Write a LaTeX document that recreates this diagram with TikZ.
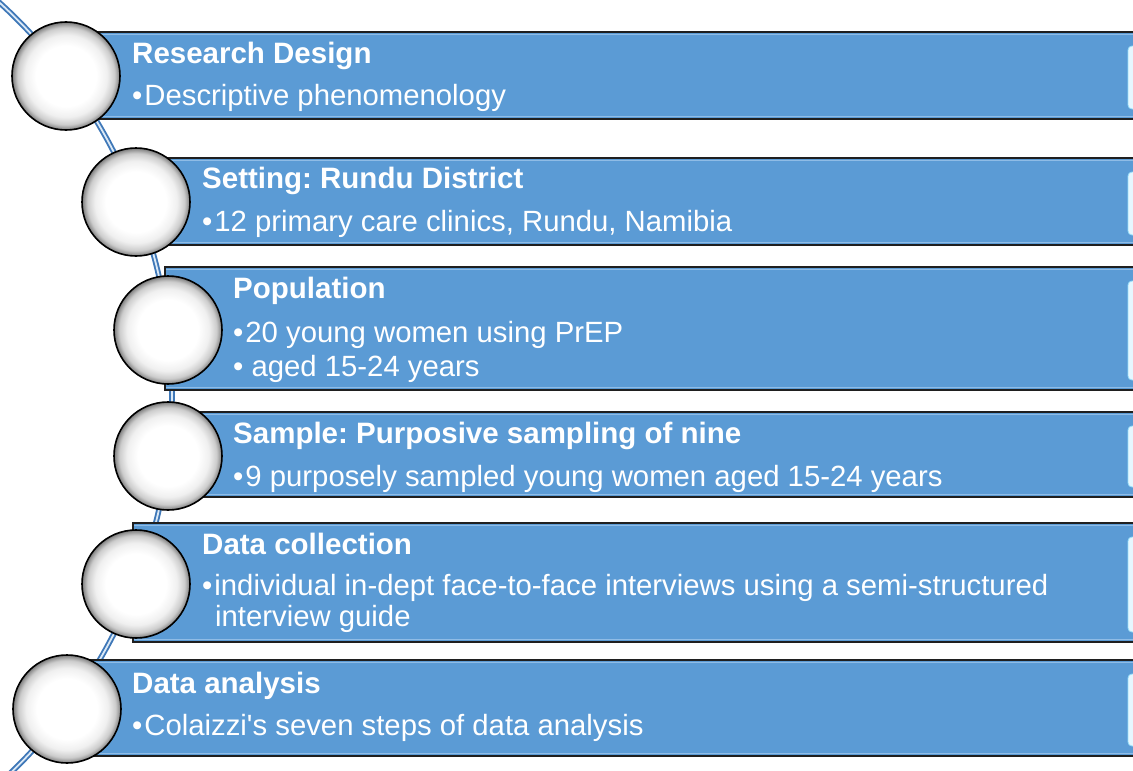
\documentclass[tikz,border=0pt]{standalone}
\usepackage{fontspec}
\setmainfont{Liberation Sans}[Ligatures=TeXOff]
\definecolor{barblue}{HTML}{5B9BD5}
\definecolor{barlight}{HTML}{8FBCE6}
\definecolor{arcblue}{HTML}{3F78B8}
\definecolor{edgelight}{HTML}{E6F7FF}
\pgfdeclareradialshading{glassball}{\pgfpoint{0bp}{0bp}}{color(0bp)=(white); color(14bp)=(white); color(19bp)=(black!6); color(22.5bp)=(black!20); color(24.5bp)=(black!45); color(25bp)=(black!55); color(50bp)=(black!55)}
\newcommand{\bul}{•\hspace{2pt}}
\tikzset{
  bar/.style={fill=barblue, draw=black!88, line width=1.6},
  barhi/.style={draw=barlight, line width=1.5},
  ball/.style={circle, minimum size=108, inner sep=0, draw=black, line width=1.6, shading=glassball},
  ttl/.style={anchor=base west, inner sep=0, text=white, font=\fontsize{29.5}{33}\selectfont\bfseries},
  txt/.style={anchor=base west, inner sep=0, text=white, font=\fontsize{29.3}{33}\selectfont},
  gloss/.style={fill=edgelight, draw=cyan!40, line width=0.8, rounded corners=4},
  timeline/.style={draw=arcblue, line width=1.9, double=white!78!barblue, double distance=1.8}
}
\frenchspacing
\begin{document}
\begin{tikzpicture}[x=1pt,y=-1pt]
\path[use as bounding box] (0,0) rectangle (1133,771);
\clip (0,0) rectangle (1133,771);
% timeline arc
\coordinate (arcc) at (-356,393);
\draw[timeline] ([shift={(-50:528)}]arcc) arc[start angle=-50, end angle=48, radius=528];
% bars
\foreach \xl/\yt/\yb in {66/32/119, 136/158/245, 165/267/390, 165/412/497, 133/523/642, 66/660/756}{
  \path[bar] (\xl,\yt) rectangle (1150,\yb);
  \draw[barhi] (\xl+1,\yt+2.5) -- (1150,\yt+2.5);
  \draw[barhi] (\xl+1,\yb-2.5) -- (1150,\yb-2.5);
  \path[gloss] (1128,\yt+14) rectangle (1160,\yb-10);
}
% circles
\node[ball] (c1) at (66,76) {};
\node[ball] (c2) at (136,202) {};
\node[ball] (c3) at (168,330) {};
\node[ball] (c4) at (168,456) {};
\node[ball] (c5) at (136,584) {};
\node[ball] (c6) at (67,709) {};
% texts
\node[ttl] (t1) at (132,63) {Research Design};
\node[txt] (b1) at (132,105) {\bul Descriptive phenomenology};
\node[ttl] (t2) at (202,188) {Setting: Rundu District};
\node[txt] (b2) at (202,231) {\bul 12 primary care clinics, Rundu, Namibia};
\node[ttl] (t3) at (233,298) {Population};
\node[txt] (b3a) at (233,342) {\bul 20 young women using PrEP};
\node[txt] (b3b) at (233,376) {• aged 15-24 years};
\node[ttl] (t4) at (233,443) {Sample: Purposive sampling of nine};
\node[txt] (b4) at (233,486) {\bul 9 purposely sampled young women aged 15-24 years};
\node[ttl] (t5) at (202,554) {Data collection};
\node[txt] (b5a) at (202,595) {\bul individual in-dept face-to-face interviews using a semi-structured};
\node[txt] (b5b) at (215,626) {interview guide};
\node[ttl] (t6) at (132,693) {Data analysis};
\node[txt] (b6) at (132,735) {\bul Colaizzi's seven steps of data analysis};
\end{tikzpicture}
\end{document}
